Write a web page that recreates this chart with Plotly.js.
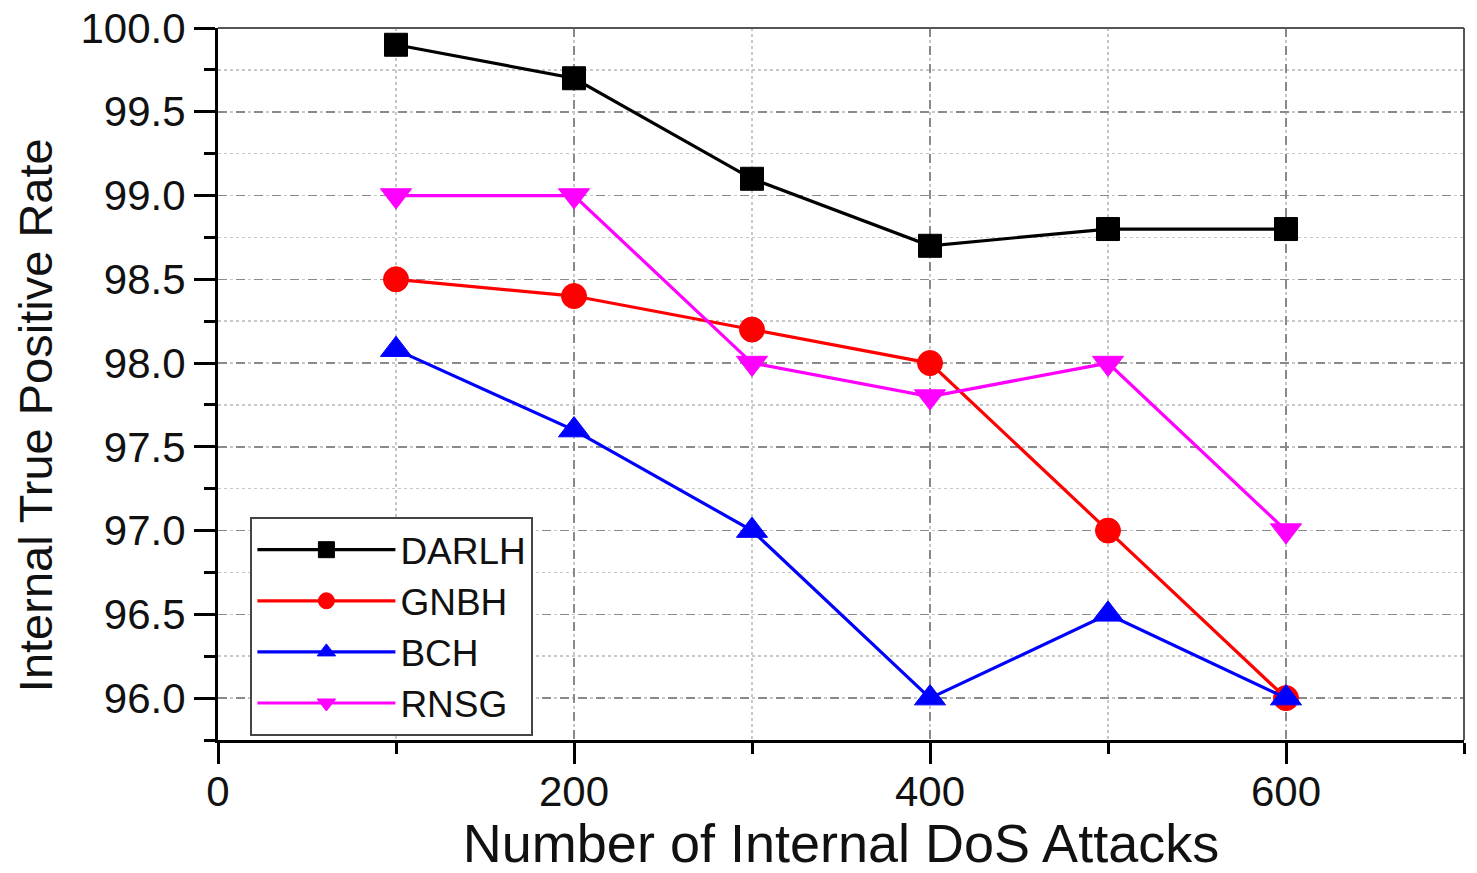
<!DOCTYPE html>
<html>
<head>
<meta charset="utf-8">
<script src="https://cdn.plot.ly/plotly-3.0.1.min.js"></script>
<style>html,body{margin:0;padding:0;background:#fff;}#chart{width:1477px;height:873px;}</style>
</head>
<body>
<div id="chart"></div>
<script>
const attacks = [100, 200, 300, 400, 500, 600];
const darlh = [99.9, 99.7, 99.1, 98.7, 98.8, 98.8];
const gnbh = [98.5, 98.4, 98.2, 98.0, 97.0, 96.0];
const bch = [98.08, 97.6, 97.0, 96.0, 96.5, 96.0];
const rnsg = [99.0, 99.0, 98.0, 97.8, 98.0, 97.0];
const seriesNames = ['DARLH', 'GNBH', 'BCH', 'RNSG'];
const xTickVals = [0, 200, 400, 600];
const yTickVals = [96.0, 96.5, 97.0, 97.5, 98.0, 98.5, 99.0, 99.5, 100.0];
const xTitle = 'Number of Internal DoS Attacks';
const yTitle = 'Internal True Positive Rate';

const FONT = 'Liberation Sans, Arial, sans-serif';
function tr(name, y, color, symbol, size) {
  return {
    x: attacks, y: y, name: name, type: 'scatter', mode: 'lines+markers',
    line: {color: color, width: 3.2},
    marker: {color: color, symbol: symbol, size: size, line: {color: color, width: 1}}
  };
}
const data = [
  tr(seriesNames[0], darlh, '#000000', 'square', 23),
  tr(seriesNames[1], gnbh, '#FF0000', 'circle', 25),
  tr(seriesNames[2], bch, '#0000FF', 'triangle-up', 27),
  tr(seriesNames[3], rnsg, '#FF00FF', 'triangle-down', 27)
];
const layout = {
  width: 1477, height: 873,
  margin: {l: 218, r: 13, t: 28, b: 133},
  paper_bgcolor: '#fff', plot_bgcolor: '#fff',
  font: {family: FONT, color: '#111'},
  showlegend: true,
  legend: {
    x: 0.026, y: 0.313, xanchor: 'left', yanchor: 'top',
    bgcolor: '#fff', bordercolor: '#444', borderwidth: 2,
    font: {family: FONT, size: 37, color: '#111'},
    itemwidth: 138, tracegroupgap: 0
  },
  xaxis: {
    range: [0, 700], tickvals: xTickVals, ticktext: xTickVals.map(String),
    tickfont: {family: FONT, size: 42, color: '#111'},
    ticklabelstandoff: -8,
    showline: true, linecolor: '#000', linewidth: 3,
    ticks: 'outside', ticklen: 21, tickwidth: 3, tickcolor: '#000',
    showgrid: true, gridcolor: '#8a8a8a', gridwidth: 1.5, griddash: 'dash',
    zeroline: false,
    minor: {dtick: 100, tick0: 0, ticks: 'outside', ticklen: 11, tickwidth: 3, tickcolor: '#000',
            showgrid: true, gridcolor: '#c8c8c8', gridwidth: 1.5, griddash: 'dot'},
    title: {text: xTitle, font: {family: FONT, size: 54, color: '#111'}, standoff: 0}
  },
  yaxis: {
    range: [95.75, 100.0], tickvals: yTickVals, ticktext: yTickVals.map(v => v.toFixed(1)),
    tickfont: {family: FONT, size: 42, color: '#111'},
    showline: true, linecolor: '#000', linewidth: 3,
    ticks: 'outside', ticklen: 21, tickwidth: 3, tickcolor: '#000',
    showgrid: true, gridcolor: '#8a8a8a', gridwidth: 1.5, griddash: 'dash',
    zeroline: false,
    minor: {dtick: 0.25, tick0: 0, ticks: 'outside', ticklen: 11, tickwidth: 3, tickcolor: '#000',
            showgrid: true, gridcolor: '#c8c8c8', gridwidth: 1.5, griddash: 'dot'}
  },
  annotations: [
    {text: yTitle, xref: 'paper', yref: 'paper', x: -0.147, y: 0.456,
     xanchor: 'center', yanchor: 'middle', textangle: -90, showarrow: false,
     font: {family: FONT, size: 47, color: '#111'}}
  ],
  shapes: [
    {type: 'line', xref: 'paper', yref: 'paper', x0: 0, x1: 1, y0: 1, y1: 1, line: {color: '#555', width: 2}},
    {type: 'line', xref: 'paper', yref: 'paper', x0: 1, x1: 1, y0: 0, y1: 1, line: {color: '#555', width: 2}}
  ]
};
Plotly.newPlot('chart', data, layout, {displayModeBar: false, staticPlot: true});
</script>
</body>
</html>
